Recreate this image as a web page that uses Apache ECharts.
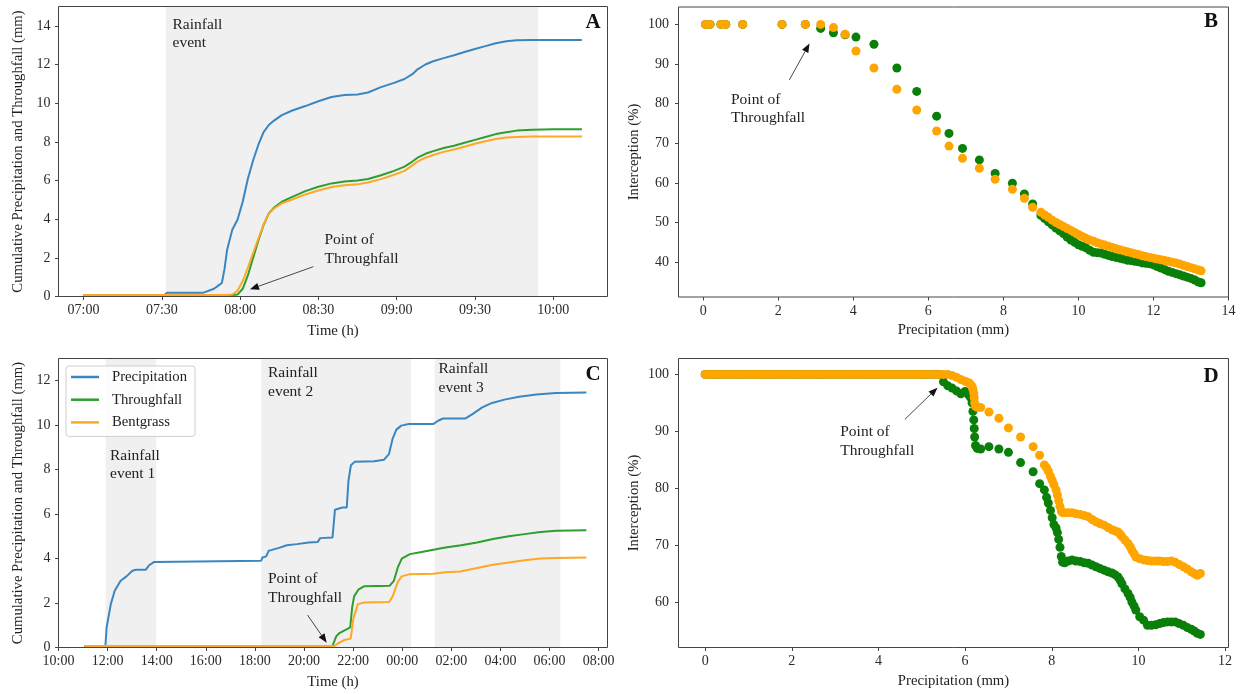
<!DOCTYPE html>
<html><head><meta charset="utf-8">
<script src="https://cdn.jsdelivr.net/npm/echarts@6/dist/echarts.min.js"></script>
<style>html,body{margin:0;padding:0;background:#fff}#c{width:1244px;height:694px}</style>
</head><body><div id="c"></div>
<script>
// ---------- Panel A : minutes after 07:00 ----------
const aTime = [0,31,32,46,50,52,53,54,55,57,59,61,63,65,67,69,71,73,76,80,85,90,95,100,105,109,114,119,123,126,128,131,134,138,142,146,150,154,158,162,166,172,180,191];
const aPrecip = [0.08,0.08,0.2,0.2,0.4,0.6,0.7,1.4,2.4,3.45,3.97,4.9,6.1,7.05,7.85,8.5,8.87,9.1,9.38,9.62,9.85,10.1,10.32,10.42,10.45,10.55,10.83,11.05,11.25,11.5,11.75,12.0,12.17,12.33,12.48,12.65,12.8,12.95,13.1,13.2,13.25,13.27,13.27,13.27];
const aThrough = [0.08,0.08,0.08,0.08,0.08,0.08,0.08,0.08,0.08,0.08,0.1,0.4,1.1,2.0,2.9,3.7,4.3,4.6,4.9,5.15,5.45,5.68,5.85,5.95,6.0,6.08,6.27,6.5,6.72,6.98,7.18,7.38,7.52,7.68,7.8,7.95,8.1,8.25,8.4,8.5,8.58,8.63,8.65,8.65];
const aBent = [0.08,0.08,0.08,0.08,0.08,0.08,0.08,0.08,0.08,0.1,0.3,0.8,1.5,2.25,3.0,3.72,4.28,4.55,4.82,5.02,5.28,5.48,5.66,5.75,5.8,5.9,6.07,6.3,6.5,6.78,6.98,7.18,7.32,7.48,7.6,7.75,7.9,8.03,8.15,8.22,8.25,8.27,8.27,8.27];
const aXTicks = [0,30,60,90,120,150,180];
const aYTicks = [0,2,4,6,8,10,12,14];
const aEvent = [31.5,174.3];

// ---------- Panel C : hours after 10:00 ----------
const cPrecipTime = [1.05,1.91,1.96,2.13,2.29,2.53,2.77,3.01,3.16,3.56,3.69,3.9,3.98,8.25,8.31,8.46,8.56,8.66,8.98,9.3,9.71,10.19,10.56,10.66,11.16,11.26,11.56,11.74,11.81,11.91,12.06,12.86,13.26,13.46,13.61,13.76,13.96,14.26,15.26,15.46,15.66,16.56,16.86,17.26,17.66,18.16,18.76,19.46,20.26,21.5];
const cPrecip = [0.07,0.07,0.9,1.95,2.55,3.0,3.2,3.45,3.5,3.5,3.7,3.85,3.9,3.9,4.05,4.1,4.35,4.38,4.48,4.6,4.65,4.72,4.75,4.92,4.95,6.2,6.3,6.3,7.5,8.2,8.35,8.38,8.45,8.7,9.4,9.8,9.98,10.05,10.05,10.2,10.3,10.3,10.5,10.8,11.0,11.15,11.28,11.38,11.45,11.47];
const cThroughTime = [1.05,11.16,11.31,11.44,11.71,11.88,11.96,12.04,12.21,12.44,13.49,13.66,13.82,13.98,14.31,14.79,15.27,15.76,16.4,17.05,17.69,18.34,18.98,19.63,20.27,21.5];
const cThrough = [0.07,0.07,0.5,0.65,0.8,0.9,1.8,2.3,2.6,2.75,2.78,3.0,3.6,4.0,4.2,4.3,4.4,4.5,4.6,4.72,4.88,5.0,5.1,5.2,5.25,5.27];
const cBentTime = [1.05,11.24,11.38,11.65,11.9,12.01,12.19,12.46,13.47,13.61,13.82,13.98,14.31,15.26,15.76,16.36,17.05,17.69,18.34,18.98,19.63,20.27,21.5];
const cBent = [0.07,0.07,0.18,0.34,0.4,1.3,1.95,2.02,2.05,2.3,2.95,3.2,3.3,3.32,3.38,3.42,3.58,3.72,3.82,3.92,4.0,4.03,4.05];
const cXTicks = [0,2,4,6,8,10,12,14,16,18,20,22];
const cYTicks = [0,2,4,6,8,10,12];
const cEvents = [[1.92,3.98],[8.26,14.36],[15.32,20.44]];

// ---------- Panel B : interception vs precipitation ----------
const bPrecip = [0.06,0.18,0.47,0.6,1.05,2.1,2.72,3.13,3.47,3.78,4.07,4.55,5.16,5.69,6.22,6.55,6.91,7.36,7.78,8.24,8.56,8.78,
 9.0,9.1,9.2,9.3,9.4,9.5,9.6,9.7,9.8,9.9,10.0,10.1,10.2,10.3,10.4,10.5,10.6,10.7,10.8,10.9,11.0,11.1,11.2,11.3,11.4,11.5,11.6,11.7,11.8,11.9,12.0,12.1,12.2,12.3,12.4,12.5,12.6,12.7,12.8,12.9,13.0,13.1,13.2,13.27];
const bThrough = [100,100,100,100,100,100,100,99.0,97.9,97.4,96.8,95.0,89.0,83.1,76.85,72.5,68.7,65.8,62.4,59.9,57.2,54.7,
 51.8,51.0,50.2,49.4,48.6,47.9,47.2,46.3,45.6,45.0,44.4,44.0,43.6,43.0,42.5,42.4,42.3,42.0,41.7,41.4,41.2,41.0,40.8,40.5,40.4,40.2,40.1,39.8,39.7,39.6,39.3,38.9,38.5,38.1,37.7,37.4,37.1,36.8,36.5,36.2,35.9,35.5,35.0,34.8];
const bBent = [100,100,100,100,100,100,100,100,99.2,97.5,93.3,89.0,83.65,78.4,73.1,69.3,66.2,63.7,60.9,58.4,56.1,53.85,
 52.6,51.9,51.3,50.6,50.0,49.5,49.0,48.5,48.0,47.5,47.0,46.5,46.0,45.6,45.3,44.9,44.6,44.3,44.0,43.7,43.4,43.1,42.9,42.6,42.4,42.1,41.9,41.6,41.4,41.2,41.0,40.8,40.6,40.4,40.2,40.0,39.8,39.5,39.2,38.9,38.6,38.3,38.0,37.8];
const bXTicks = [0,2,4,6,8,10,12,14];
const bYTicks = [40,50,60,70,80,90,100];

// ---------- Panel D ----------
const dPrecip = [0.0,0.1,0.2,0.3,0.4,0.5,0.6,0.7,0.8,0.9,1.0,1.1,1.2,1.3,1.4,1.5,1.6,1.7,1.8,1.9,2.0,2.1,2.2,2.3,2.4,2.5,2.6,2.7,2.8,2.9,3.0,3.1,3.2,3.3,3.4,3.5,3.6,3.7,3.8,3.9,4.0,4.1,4.2,4.3,4.4,4.5,4.6,4.7,4.8,4.9,5.0,5.1,5.2,5.3,5.4,
 5.5,5.6,5.7,5.8,5.9,6.0,6.07,6.12,6.16,6.18,6.2,6.21,6.22,6.24,6.28,6.36,6.55,6.78,7.0,7.28,7.57,7.72,7.83,7.88,7.92,7.97,8.01,8.05,8.1,8.13,8.16,8.19,8.22,8.25,8.3,8.38,8.47,8.56,8.66,8.75,8.84,8.93,9.02,9.11,9.21,9.3,9.39,9.46,9.53,9.58,9.62,9.69,9.76,9.81,9.85,9.9,9.94,10.03,10.12,10.21,10.3,10.4,10.49,10.58,10.67,10.76,10.85,10.94,11.04,11.13,11.22,11.29,11.36,11.43];
const dThrough = [100,100,100,100,100,100,100,100,100,100,100,100,100,100,100,100,100,100,100,100,100,100,100,100,100,100,100,100,100,100,100,100,100,100,100,100,100,100,100,100,100,100,100,100,100,100,100,100,100,100,100,100,100,100,100,
 98.7,98.0,97.6,97.1,96.6,97.0,96.5,96.0,95.0,93.5,92.0,90.5,89.0,87.5,87.0,86.9,87.3,86.9,86.3,84.5,82.9,80.8,79.7,78.4,77.4,76.1,74.8,73.6,73.0,72.2,71.0,69.6,68.0,67.0,66.9,67.2,67.4,67.2,67.1,66.9,66.8,66.5,66.2,65.9,65.6,65.3,65.1,64.8,64.4,63.8,63.2,62.3,61.5,60.8,60.0,59.3,58.6,57.4,56.8,55.9,55.9,56.0,56.2,56.4,56.5,56.5,56.5,56.2,55.9,55.5,55.2,54.9,54.5,54.3];
const dBent = [100,100,100,100,100,100,100,100,100,100,100,100,100,100,100,100,100,100,100,100,100,100,100,100,100,100,100,100,100,100,100,100,100,100,100,100,100,100,100,100,100,100,100,100,100,100,100,100,100,100,100,100,100,100,100,
 100,100,99.8,99.5,99.1,98.8,98.6,98.3,97.9,97.4,96.7,95.9,95.0,94.4,94.2,94.2,93.4,92.3,90.6,89.0,87.3,85.8,84.1,83.6,83.0,82.1,81.4,80.6,79.7,78.8,77.8,76.8,76.0,75.7,75.7,75.7,75.7,75.5,75.4,75.2,75.0,74.5,74.1,73.8,73.5,73.1,72.7,72.5,72.3,71.9,71.5,70.9,70.3,69.7,69.1,68.5,67.9,67.6,67.4,67.3,67.2,67.2,67.2,67.1,67.1,67.2,67.0,66.6,66.2,65.8,65.3,65.0,64.7,65.0];
const dXTicks = [0,2,4,6,8,10,12];
const dYTicks = [60,70,80,90,100];

// ---------- styling ----------
const FONT = '"Liberation Serif","Times New Roman",serif';
const AX = '#444';
const TXT = '#222';
const BLUE = '#3a86c0', GREEN = '#2e9e2e', ORANGE = '#ffa726';
const SGREEN = '#0a7f0a', SORANGE = '#ffa500';

const grids = [
  {left:58.5, top:6.5, width:549, height:290},     // A
  {left:678.5, top:7, width:550, height:290},      // B
  {left:58.5, top:358.5, width:549, height:289},   // C
  {left:678.5, top:358.5, width:550, height:289}   // D
];

const pad2 = n => (n < 10 ? '0' : '') + n;
const fmtA = v => { const m = 7*60 + Math.round(v); return pad2(Math.floor(m/60)%24) + ':' + pad2(m%60); };
const fmtC = v => pad2((10 + Math.round(v)) % 24) + ':00';

function axis(kind, gi, min, max, ticks, fmt, name, nameGap, margin) {
  return {
    type:'value', gridIndex:gi, min:min, max:max,
    position: kind === 'x' ? 'bottom' : 'left',
    name:name, nameLocation:'middle', nameGap:nameGap,
    nameTextStyle:{fontFamily:FONT, fontSize:14.7, color:TXT},
    axisLine:{show:false, onZero:false},
    axisTick:{show:true, length:3.5, lineStyle:{color:AX, width:1}, customValues:ticks},
    axisLabel:{fontFamily:FONT, fontSize:14, color:'#2a2a2a', margin:margin, customValues:ticks,
               formatter: fmt || (v => String(v))},
    splitLine:{show:false}
  };
}

const xAxes = [
  axis('x',0,-9.6,200.8,aXTicks,fmtA,'Time (h)',27,7),
  axis('x',1,-0.66,14.0,bXTicks,null,'Precipitation (mm)',26,7),
  axis('x',2,0,22.36,cXTicks,fmtC,'Time (h)',27,7),
  axis('x',3,-0.616,12.08,dXTicks,null,'Precipitation (mm)',26,7)
];
const yAxes = [
  axis('y',0,0,15.0,aYTicks,null,'Cumulative Precipitation and Throughfall (mm)',33,8),
  axis('y',1,31.2,104.4,bYTicks,null,'Interception (%)',37,9.5),
  axis('y',2,0,13.0,cYTicks,null,'Cumulative Precipitation and Throughfall (mm)',33,8),
  axis('y',3,52.0,102.8,dYTicks,null,'Interception (%)',37,9.5)
];

const zip = (xs, ys) => xs.map((x,i) => [x, ys[i]]);
function lineSeries(name, gi, data, color, extra) {
  return Object.assign({
    type:'line', name:name, xAxisIndex:gi, yAxisIndex:gi, data:data,
    showSymbol:false, symbol:'none', color:color,
    lineStyle:{color:color, width:2}, animation:false, z:3
  }, extra || {});
}
function scatterSeries(name, gi, data, color) {
  return {type:'scatter', name:name, xAxisIndex:gi, yAxisIndex:gi, data:data,
    symbol:'circle', symbolSize:9, itemStyle:{color:color, opacity:1}, animation:false, z:3};
}
const shade = spans => ({silent:true, itemStyle:{color:'#f0f0f0'},
  data: spans.map(s => [{xAxis:s[0]},{xAxis:s[1]}])});

const series = [
  lineSeries('Precipitation',0,zip(aTime,aPrecip),BLUE,{markArea:shade([aEvent])}),
  lineSeries('Throughfall',0,zip(aTime,aThrough),GREEN),
  lineSeries('Bentgrass',0,zip(aTime,aBent),ORANGE),
  lineSeries('Precipitation',2,zip(cPrecipTime,cPrecip),BLUE,{markArea:shade(cEvents)}),
  lineSeries('Throughfall',2,zip(cThroughTime,cThrough),GREEN),
  lineSeries('Bentgrass',2,zip(cBentTime,cBent),ORANGE),
  scatterSeries('B throughfall',1,zip(bPrecip,bThrough),SGREEN),
  scatterSeries('B bentgrass',1,zip(bPrecip,bBent),SORANGE),
  scatterSeries('D throughfall',3,zip(dPrecip,dThrough),SGREEN),
  scatterSeries('D bentgrass',3,zip(dPrecip,dBent),SORANGE)
];

// ---------- annotations (pixel placement) ----------
const notes = [
  {lines:['Rainfall','event'], x:172.5, y:25, lh:18.3},
  {lines:['Point of','Throughfall'], x:324.5, y:240, lh:19.3},
  {lines:['Point of','Throughfall'], x:731, y:100, lh:18.3},
  {lines:['Rainfall','event 1'], x:110, y:456, lh:18.3},
  {lines:['Rainfall','event 2'], x:268, y:372.7, lh:19.6},
  {lines:['Rainfall','event 3'], x:438.5, y:369.3, lh:19},
  {lines:['Point of','Throughfall'], x:268, y:579.3, lh:19},
  {lines:['Point of','Throughfall'], x:840.2, y:431.7, lh:19.3}
];
const arrows = [
  [313.3,266.7,250,289.3],
  [789.3,80,809.5,43.5],
  [307.5,615,326.7,642.7],
  [904.9,419.3,937.5,387.7]
];
const letters = [['A',593,23],['B',1211,22],['C',593,374.5],['D',1211,376.5]];

const graphic = [];
grids.forEach(g => graphic.push({type:'rect', z:100, silent:true,
  shape:{x:g.left, y:g.top, width:g.width, height:g.height},
  style:{fill:'transparent', stroke:AX, lineWidth:1}}));
notes.forEach(n => n.lines.forEach((t,i) => graphic.push({type:'text', z:100, silent:true,
  x:n.x, y:n.y + i*n.lh,
  style:{text:t, fill:TXT, font:'15.5px ' + FONT, align:'left', verticalAlign:'middle'}})));
arrows.forEach(a => {
  const [x1,y1,x2,y2] = a, dx = x2-x1, dy = y2-y1, L = Math.hypot(dx,dy), ux = dx/L, uy = dy/L;
  const hl = 9, hw = 3.6, bx = x2-ux*hl, by = y2-uy*hl;
  graphic.push({type:'line', z:100, silent:true, shape:{x1:x1,y1:y1,x2:bx,y2:by}, style:{stroke:'#333', lineWidth:0.9}});
  graphic.push({type:'polygon', z:100, silent:true,
    shape:{points:[[x2,y2],[bx-uy*hw,by+ux*hw],[bx+uy*hw,by-ux*hw]]}, style:{fill:'#111'}});
});
letters.forEach(l => graphic.push({type:'text', z:100, silent:true, x:l[1], y:l[2],
  style:{text:l[0], fill:'#111', font:'bold 21px ' + FONT, align:'center', verticalAlign:'middle'}}));

const chart = echarts.init(document.getElementById('c'), null, {renderer:'canvas'});
chart.setOption({
  animation:false,
  backgroundColor:'#ffffff',
  grid: grids.map(g => Object.assign({show:false, containLabel:false, outerBoundsMode:'none'}, g)),
  xAxis:xAxes, yAxis:yAxes, series:series, graphic:graphic,
  legend:{
    data:['Precipitation','Throughfall','Bentgrass'], selectedMode:false,
    orient:'vertical', left:66, top:366,
    icon:'rect', itemWidth:28, itemHeight:2.5, itemGap:6.7,
    textStyle:{fontFamily:FONT, fontSize:14.7, color:TXT, lineHeight:16, padding:[0,0,0,8]},
    backgroundColor:'rgba(255,255,255,0.85)', borderColor:'#cfcfcf', borderWidth:1, borderRadius:3,
    padding:[3,8,6,5]
  }
});
</script></body></html>
